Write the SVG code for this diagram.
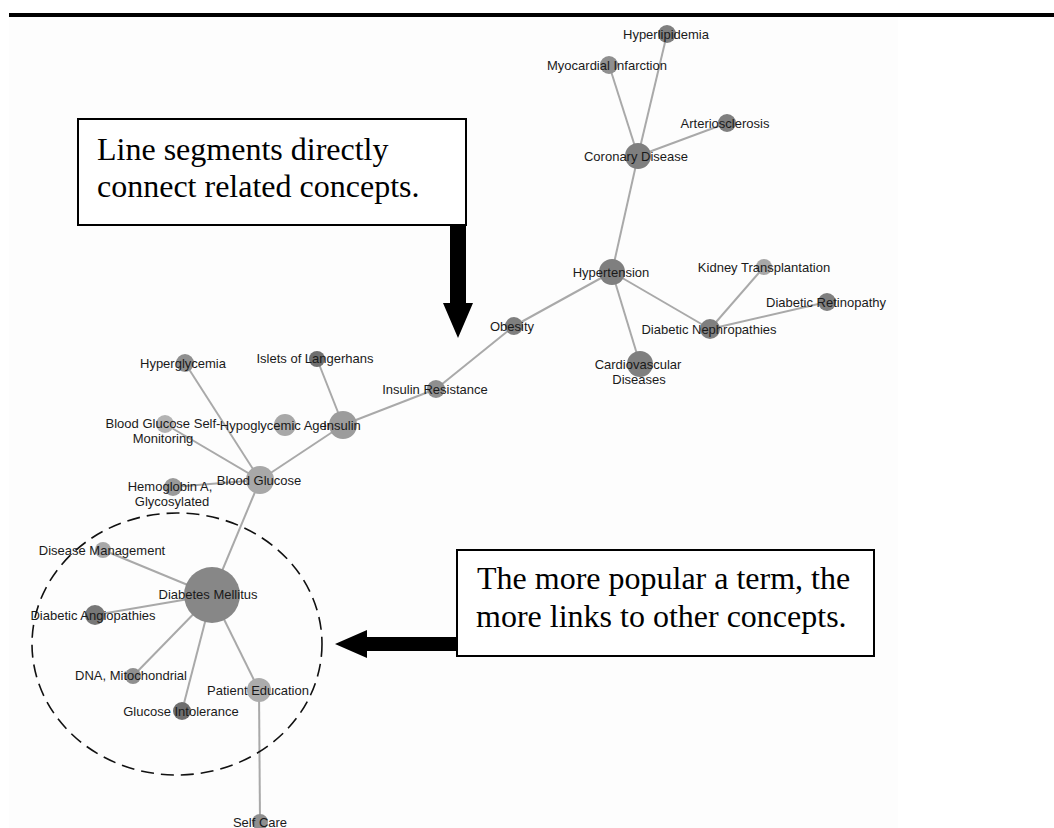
<svg xmlns="http://www.w3.org/2000/svg" width="1054" height="828" viewBox="0 0 1054 828">
  <style>
    .edge { stroke: #a9a9a9; stroke-width: 2; fill: none; }
    .n-dark { fill: #7f7f7f; }
    .n-mid { fill: #8f8f8f; }
    .n-light { fill: #a8a8a8; }
    .lbl { font-family: "Liberation Sans", Arial, sans-serif; font-size: 13px; fill: #1a1a1a; text-anchor: middle; }
    .note { font-family: "Liberation Serif", "Times New Roman", serif; font-size: 32px; fill: #000; }
    .box { fill: #fff; stroke: #000; stroke-width: 2; }
  </style>

  <rect x="0" y="0" width="1054" height="828" fill="#ffffff"/>
  <rect x="9" y="17" width="889" height="811" fill="#fdfdfd"/>
  <!-- top rule -->
  <rect x="9" y="13" width="1045" height="4" fill="#000"/>

  <!-- links between concepts -->
  <g id="connectors">
    <line class="edge" x1="638" y1="156" x2="609" y2="65"/>
    <line class="edge" x1="638" y1="156" x2="667" y2="34"/>
    <line class="edge" x1="638" y1="156" x2="727" y2="123"/>
    <line class="edge" x1="638" y1="156" x2="612" y2="272"/>
    <line class="edge" x1="612" y1="272" x2="514" y2="326"/>
    <line class="edge" x1="612" y1="272" x2="710" y2="329"/>
    <line class="edge" x1="612" y1="272" x2="640" y2="364"/>
    <line class="edge" x1="710" y1="329" x2="764" y2="267"/>
    <line class="edge" x1="710" y1="329" x2="827" y2="302"/>
    <line class="edge" x1="514" y1="326" x2="436" y2="389"/>
    <line class="edge" x1="436" y1="389" x2="343" y2="425"/>
    <line class="edge" x1="343" y1="425" x2="317" y2="359"/>
    <line class="edge" x1="343" y1="425" x2="260" y2="480"/>
    <line class="edge" x1="260" y1="480" x2="185" y2="363"/>
    <line class="edge" x1="260" y1="480" x2="165" y2="424"/>
    <line class="edge" x1="260" y1="480" x2="173" y2="487"/>
    <line class="edge" x1="260" y1="480" x2="212" y2="595"/>
    <line class="edge" x1="212" y1="595" x2="103" y2="550"/>
    <line class="edge" x1="212" y1="595" x2="95" y2="615"/>
    <line class="edge" x1="212" y1="595" x2="133" y2="676"/>
    <line class="edge" x1="212" y1="595" x2="182" y2="711"/>
    <line class="edge" x1="212" y1="595" x2="259" y2="690"/>
    <line class="edge" x1="259" y1="690" x2="260" y2="822"/>
  </g>

  <!-- concept nodes -->
  <g id="n-hyperlipidemia"><circle class="n-dark" cx="667" cy="34" r="9"/><text class="lbl" x="666" y="39">Hyperlipidemia</text></g>
  <g id="n-myocardial"><circle class="n-mid" cx="609" cy="65" r="9"/><text class="lbl" x="607" y="70">Myocardial Infarction</text></g>
  <g id="n-arteriosclerosis"><circle class="n-dark" cx="727" cy="123" r="9"/><text class="lbl" x="725" y="128">Arteriosclerosis</text></g>
  <g id="n-coronary"><circle class="n-dark" cx="638" cy="156" r="13"/><text class="lbl" x="636" y="161">Coronary Disease</text></g>
  <g id="n-hypertension"><circle class="n-dark" cx="612" cy="272" r="13"/><text class="lbl" x="611" y="277">Hypertension</text></g>
  <g id="n-kidney"><circle class="n-light" cx="764" cy="267" r="8"/><text class="lbl" x="764" y="272">Kidney Transplantation</text></g>
  <g id="n-retinopathy"><circle class="n-dark" cx="827" cy="302" r="9"/><text class="lbl" x="826" y="307">Diabetic Retinopathy</text></g>
  <g id="n-nephropathies"><circle class="n-dark" cx="710" cy="329" r="10"/><text class="lbl" x="709" y="334">Diabetic Nephropathies</text></g>
  <g id="n-cardiovascular"><circle class="n-dark" cx="640" cy="364" r="13"/><text class="lbl" x="638" y="369">Cardiovascular</text><text class="lbl" x="639" y="384">Diseases</text></g>
  <g id="n-obesity"><circle class="n-dark" cx="514" cy="326" r="9"/><text class="lbl" x="512" y="331">Obesity</text></g>
  <g id="n-insulin-resistance"><circle class="n-mid" cx="436" cy="389" r="9"/><text class="lbl" x="435" y="394">Insulin Resistance</text></g>
  <g id="n-islets"><circle cx="317" cy="359" r="8" style="fill:#6f6f6f"/><text class="lbl" x="315" y="363">Islets of Langerhans</text></g>
  <g id="n-hyperglycemia"><circle class="n-mid" cx="185" cy="363" r="9"/><text class="lbl" x="183" y="368">Hyperglycemia</text></g>
  <g id="n-hypoglycemic"><circle class="n-light" cx="285" cy="425" r="11"/><text class="lbl" x="282" y="430">Hypoglycemic Agents</text></g>
  <g id="n-insulin"><circle cx="343" cy="425" r="14" style="fill:#9c9c9c"/><text class="lbl" x="342" y="430">Insulin</text></g>
  <g id="n-self-monitoring"><circle cx="165" cy="424" r="9" style="fill:#b3b3b3"/><text class="lbl" x="163" y="428">Blood Glucose Self-</text><text class="lbl" x="163" y="443">Monitoring</text></g>
  <g id="n-blood-glucose"><circle class="n-light" cx="260" cy="480" r="14"/><text class="lbl" x="259" y="485">Blood Glucose</text></g>
  <g id="n-hemoglobin"><circle cx="173" cy="487" r="9" style="fill:#9a9a9a"/><text class="lbl" x="170" y="491">Hemoglobin A,</text><text class="lbl" x="172" y="506">Glycosylated</text></g>
  <g id="n-disease-management"><circle class="n-light" cx="103" cy="550" r="8"/><text class="lbl" x="102" y="555">Disease Management</text></g>
  <g id="n-diabetes-mellitus"><circle cx="212" cy="595" r="28" style="fill:#878787"/><text class="lbl" x="208" y="599">Diabetes Mellitus</text></g>
  <g id="n-angiopathies"><circle cx="95" cy="615" r="10" style="fill:#777"/><text class="lbl" x="93" y="620">Diabetic Angiopathies</text></g>
  <g id="n-dna"><circle class="n-mid" cx="133" cy="676" r="8"/><text class="lbl" x="131" y="680">DNA, Mitochondrial</text></g>
  <g id="n-patient-education"><circle cx="259" cy="690" r="12" style="fill:#acacac"/><text class="lbl" x="258" y="695">Patient Education</text></g>
  <g id="n-glucose-intolerance"><circle cx="182" cy="711" r="9" style="fill:#6e6e6e"/><text class="lbl" x="181" y="716">Glucose Intolerance</text></g>
  <g id="n-self-care"><circle class="n-mid" cx="260" cy="822" r="8"/><text class="lbl" x="260" y="827">Self Care</text></g>

  <!-- dashed grouping around the hub -->
  <ellipse id="hub-ring" cx="177" cy="644" rx="145" ry="131" fill="none" stroke="#111" stroke-width="1.6" stroke-dasharray="13 7"/>

  <!-- callout: line segments -->
  <g id="callout-links">
    <rect class="box" x="78" y="119" width="388" height="106"/>
    <text class="note" x="97" y="160">Line segments directly</text>
    <text class="note" x="97" y="197">connect related concepts.</text>
    <path d="M450,226 L466,226 L466,303 L473,303 L458,338 L443,303 L450,303 Z" fill="#000"/>
  </g>

  <!-- callout: popularity -->
  <g id="callout-popularity">
    <rect class="box" x="457" y="550" width="417" height="106"/>
    <text class="note" x="477" y="589">The more popular a term, the</text>
    <text class="note" x="476" y="627">more links to other concepts.</text>
    <path d="M457,637 L367,637 L367,630 L335,644 L367,658 L367,651 L457,651 Z" fill="#000"/>
  </g>
</svg>
